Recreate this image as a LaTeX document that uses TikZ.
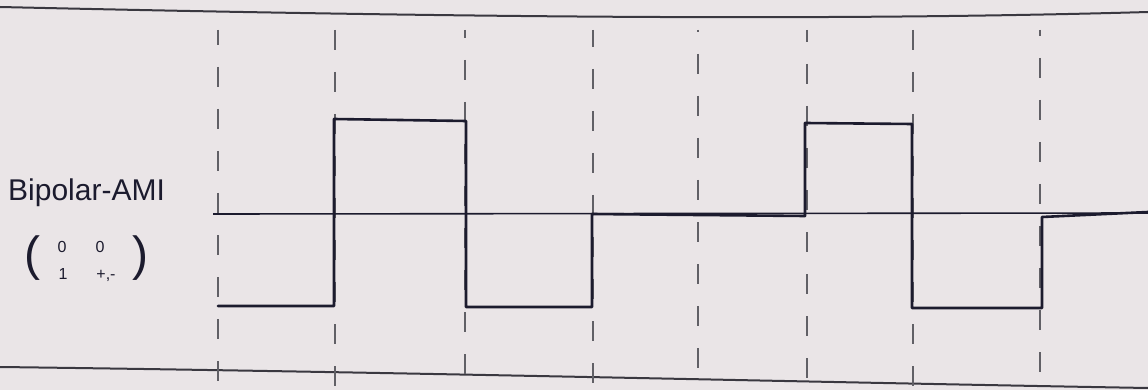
\documentclass[tikz,border=0pt]{standalone}
\usepackage{fontspec}
\setmainfont{Liberation Sans}
\definecolor{paper}{HTML}{EAE5E7}
\definecolor{ink}{HTML}{1C1B2E}
\definecolor{pencil}{HTML}{3A3840}
\begin{document}
\begin{tikzpicture}[x=1pt,y=-1pt,
  signal/.style={ink,line width=2.6pt,line join=round,line cap=round},
  axisline/.style={ink,line width=1.6pt},
  frameline/.style={pencil,line width=2pt},
  gridline/.style={pencil!80,line width=1.1pt,dash pattern=on 20pt off 22pt},
  lbl/.style={ink,font=\fontsize{30}{32}\selectfont,inner sep=0pt},
  paren/.style={ink,font=\fontsize{48}{50}\selectfont,inner sep=0pt},
  entry/.style={ink,font=\fontsize{16}{18}\selectfont,inner sep=0pt}]
\useasboundingbox (0,0) rectangle (1148,390);
\fill[paper] (0,0) rectangle (1148,390);
% frame lines
\draw[frameline] (0,7) .. controls (400,16) and (800,22) .. (1148,12);
\draw[frameline] (0,367) .. controls (400,372) and (800,382) .. (1148,388);
% dashed grid
\foreach \x/\o in {218/5,335/0,465/12,593/3,698/18,807/8,913/0,1040/14}
  \draw[gridline,dash phase=\o pt] (\x,30) -- (\x,390);
% zero axis
\draw[axisline] (213,214) -- (1148,213);
% signal
\draw[signal] (218,306) -- (334,306) -- (334,119) -- (466,121) -- (466,307)
  -- (592,307) -- (592,214) -- (805,216) -- (805,123) -- (912,124)
  -- (912,308) -- (1042,308) -- (1042,217) -- (1148,212);
% labels
\node[lbl,anchor=west] (name) at (8,193) {Bipolar-AMI};
\node[paren] (lpar) at (32,258) {(};
\node[paren] (rpar) at (140,258) {)};
\node[entry] (a0) at (62,247) {0};
\node[entry] (b0) at (100,247) {0};
\node[entry] (a1) at (63,274) {1};
\node[entry] (b1) at (106,276) {+,-};
\end{tikzpicture}
\end{document}
